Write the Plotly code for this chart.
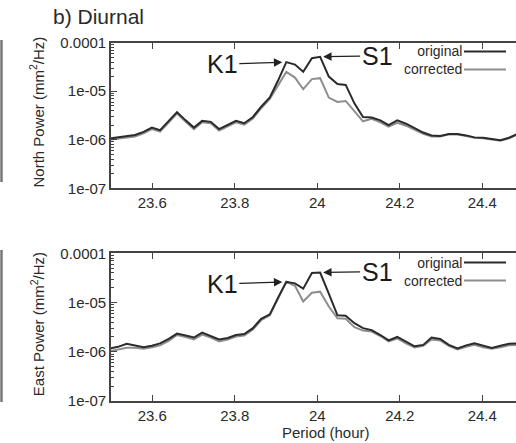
import numpy as np
import plotly.graph_objects as go

# ---- data ----
period = [23.497, 23.517, 23.538, 23.558, 23.579, 23.599, 23.619, 23.640, 23.660, 23.681,
          23.701, 23.721, 23.742, 23.762, 23.783, 23.803, 23.823, 23.844, 23.864, 23.885,
          23.905, 23.925, 23.946, 23.966, 23.987, 24.007, 24.028, 24.049, 24.069, 24.090,
          24.111, 24.132, 24.153, 24.173, 24.194, 24.215, 24.236, 24.257, 24.277, 24.298,
          24.319, 24.340, 24.361, 24.381, 24.402, 24.423, 24.444, 24.465, 24.486, 24.506]

north_original = [1.07e-6, 1.12e-6, 1.17e-6, 1.26e-6, 1.45e-6, 1.78e-6, 1.58e-6, 2.40e-6, 3.72e-6, 2.51e-6,
                  1.78e-6, 2.45e-6, 2.34e-6, 1.66e-6, 2.00e-6, 2.45e-6, 2.19e-6, 2.95e-6, 4.79e-6, 7.41e-6,
                  1.66e-5, 3.98e-5, 3.55e-5, 2.51e-5, 4.79e-5, 5.13e-5, 2.00e-5, 1.41e-5, 1.35e-5, 5.62e-6,
                  2.95e-6, 2.88e-6, 2.51e-6, 2.00e-6, 2.51e-6, 2.14e-6, 1.74e-6, 1.41e-6, 1.23e-6, 1.20e-6,
                  1.32e-6, 1.32e-6, 1.23e-6, 1.12e-6, 1.10e-6, 1.02e-6, 9.8e-7, 1.10e-6, 1.32e-6, 1.41e-6]

north_corrected = [1.00e-6, 1.05e-6, 1.10e-6, 1.17e-6, 1.35e-6, 1.66e-6, 1.48e-6, 2.24e-6, 3.47e-6, 2.34e-6,
                   1.66e-6, 2.29e-6, 2.19e-6, 1.55e-6, 1.86e-6, 2.29e-6, 2.04e-6, 2.75e-6, 4.47e-6, 6.92e-6,
                   1.32e-5, 2.51e-5, 1.91e-5, 1.10e-5, 1.78e-5, 1.86e-5, 7.41e-6, 6.03e-6, 6.31e-6, 3.80e-6,
                   2.40e-6, 2.69e-6, 2.29e-6, 1.86e-6, 2.24e-6, 1.95e-6, 1.58e-6, 1.32e-6, 1.17e-6, 1.17e-6,
                   1.29e-6, 1.29e-6, 1.20e-6, 1.10e-6, 1.07e-6, 1.00e-6, 9.5e-7, 1.07e-6, 1.29e-6, 1.38e-6]

east_original = [1.17e-6, 1.26e-6, 1.45e-6, 1.32e-6, 1.23e-6, 1.32e-6, 1.48e-6, 1.82e-6, 2.34e-6, 2.14e-6,
                 1.95e-6, 2.45e-6, 2.09e-6, 1.78e-6, 1.91e-6, 2.19e-6, 2.29e-6, 3.02e-6, 4.68e-6, 5.75e-6,
                 1.26e-5, 2.63e-5, 2.45e-5, 1.91e-5, 3.98e-5, 4.07e-5, 1.51e-5, 5.50e-6, 5.37e-6, 3.80e-6,
                 3.02e-6, 2.75e-6, 2.19e-6, 1.70e-6, 2.00e-6, 1.58e-6, 1.29e-6, 1.38e-6, 1.95e-6, 1.82e-6,
                 1.38e-6, 1.17e-6, 1.35e-6, 1.48e-6, 1.32e-6, 1.20e-6, 1.32e-6, 1.45e-6, 1.48e-6, 1.48e-6]

east_corrected = [1.02e-6, 1.10e-6, 1.20e-6, 1.20e-6, 1.15e-6, 1.23e-6, 1.35e-6, 1.66e-6, 2.19e-6, 2.00e-6,
                  1.78e-6, 2.24e-6, 1.95e-6, 1.62e-6, 1.78e-6, 2.04e-6, 2.14e-6, 2.82e-6, 4.37e-6, 5.50e-6,
                  1.20e-5, 2.63e-5, 2.19e-5, 1.05e-5, 1.58e-5, 1.66e-5, 8.32e-6, 4.79e-6, 4.68e-6, 3.16e-6,
                  2.69e-6, 2.57e-6, 2.09e-6, 1.62e-6, 1.86e-6, 1.48e-6, 1.23e-6, 1.32e-6, 1.78e-6, 1.70e-6,
                  1.32e-6, 1.12e-6, 1.26e-6, 1.38e-6, 1.23e-6, 1.15e-6, 1.23e-6, 1.35e-6, 1.38e-6, 1.38e-6]

x_tickvals = [23.6, 23.8, 24.0, 24.2, 24.4]
x_ticktext = ["23.6", "23.8", "24", "24.2", "24.4"]
y_tickvals = [1e-7, 1e-6, 1e-5, 1e-4]
y_ticktext = ["1e-07", "1e-06", "1e-05", "0.0001"]
series_names = ["original", "corrected"]
panel_titles = ["North Power (mm<sup>2</sup>/Hz)", "East Power (mm<sup>2</sup>/Hz)"]
k1_index = 21
s1_index = 25

# ---- styling ----
W, H = 516, 443
FONT = "Liberation Sans, Arial, sans-serif"
TXT = "#2a2a2a"
AX = "#444444"
C_ORIG = "#2b2b2b"
C_CORR = "#8e8e8e"

def py2paper(p):
    return 1 - p / H

def px2paper(p):
    return p / W

fig = go.Figure()

panels = [
    dict(orig=north_original, corr=north_corrected, xa="x", ya="y", top=42.7, bot=188.3),
    dict(orig=east_original, corr=east_corrected, xa="x2", ya="y2", top=253.3, bot=401.0),
]

for i, pn in enumerate(panels):
    fig.add_trace(go.Scatter(x=period, y=pn["corr"], mode="lines", name=series_names[1],
                             line=dict(color=C_CORR, width=2), xaxis=pn["xa"], yaxis=pn["ya"],
                             showlegend=False))
    fig.add_trace(go.Scatter(x=period, y=pn["orig"], mode="lines", name=series_names[0],
                             line=dict(color=C_ORIG, width=2), xaxis=pn["xa"], yaxis=pn["ya"],
                             showlegend=False))

minor_vals = [k * 10.0 ** e for e in (-7, -6, -5) for k in range(2, 10)]
x_left = 111 / W
xrange_ = [23.5, 23.5 + (W - 111) / 412.5]

common_x = dict(range=xrange_, tickvals=x_tickvals, ticktext=x_ticktext, ticks="inside",
                ticklen=6, tickwidth=1.2, tickcolor=AX, showline=True, linecolor=AX, linewidth=1.6,
                mirror="ticks", showgrid=False, zeroline=False, domain=[x_left, 1],
                tickfont=dict(family=FONT, size=15, color=TXT), automargin=False)
common_y = dict(type="log", range=[-7, -4], tickvals=y_tickvals, ticktext=y_ticktext,
                ticks="inside", ticklen=6, tickwidth=1.2, tickcolor=AX, showline=True,
                linecolor=AX, linewidth=1.6, mirror=False, showgrid=False, zeroline=False,
                minor=dict(tickvals=minor_vals, ticks="inside", ticklen=3, tickwidth=1,
                           tickcolor=AX, showgrid=False),
                tickfont=dict(family=FONT, size=15, color=TXT), automargin=False)

fig.update_layout(
    xaxis=dict(common_x, anchor="y"),
    yaxis=dict(common_y, anchor="x", domain=[py2paper(188.3), py2paper(42.7)]),
    xaxis2=dict(common_x, anchor="y2"),
    yaxis2=dict(common_y, anchor="x2", domain=[py2paper(401.0), py2paper(253.3)]),
)

annotations = []
shapes = []

# panel title
annotations.append(dict(text="b) Diurnal", x=px2paper(51), y=py2paper(17), xref="paper", yref="paper",
                        xanchor="left", yanchor="middle", showarrow=False,
                        font=dict(family=FONT, size=21, color=TXT)))

# y titles
for i, pn in enumerate(panels):
    annotations.append(dict(text=panel_titles[i], x=px2paper(37),
                            y=py2paper((pn["top"] + pn["bot"]) / 2 - 3), xref="paper", yref="paper",
                            xanchor="center", yanchor="middle", textangle=-90, showarrow=False,
                            font=dict(family=FONT, size=15, color=TXT)))

# x title
annotations.append(dict(text="Period (hour)", x=px2paper(326), y=py2paper(432), xref="paper",
                        yref="paper", xanchor="center", yanchor="middle", showarrow=False,
                        font=dict(family=FONT, size=15, color=TXT)))

# K1 / S1 arrows
for i, pn in enumerate(panels):
    xa, ya = pn["xa"], pn["ya"]
    annotations.append(dict(text="K1", x=period[k1_index], y=np.log10(pn["orig"][k1_index]),
                            xref=xa, yref=ya, ax=-64, ay=2, showarrow=True, arrowhead=2,
                            arrowsize=1.4, arrowwidth=1.2, arrowcolor="#222", standoff=4,
                            font=dict(family=FONT, size=25, color="#1a1a1a")))
    annotations.append(dict(text="S1", x=period[s1_index], y=np.log10(pn["orig"][s1_index]),
                            xref=xa, yref=ya, ax=57, ay=-1, showarrow=True, arrowhead=2,
                            arrowsize=1.4, arrowwidth=1.2, arrowcolor="#222", standoff=3,
                            font=dict(family=FONT, size=25, color="#1a1a1a")))

# custom legends: one right-aligned two-line text block plus line samples
LEG_SIZE = 14
line_gap = 1.3 * LEG_SIZE
legend_centres = [60.5, 271.5]
for yc in legend_centres:
    annotations.append(dict(text="<br>".join(series_names), x=px2paper(463), y=py2paper(yc),
                            xref="paper", yref="paper", xanchor="right", yanchor="middle",
                            align="right", showarrow=False, borderpad=0,
                            font=dict(family=FONT, size=LEG_SIZE, color=TXT)))
    for k, col in enumerate([C_ORIG, C_CORR]):
        yy = yc + (k - 0.5) * line_gap
        shapes.append(dict(type="line", xref="paper", yref="paper", x0=px2paper(464),
                           x1=px2paper(506), y0=py2paper(yy), y1=py2paper(yy),
                           line=dict(color=col, width=2)))

# remnant of the neighbouring panel frame at the left edge
for (a, b) in [(40, 182), (250, 402)]:
    shapes.append(dict(type="line", xref="paper", yref="paper", x0=px2paper(1.5), x1=px2paper(1.5),
                       y0=py2paper(a), y1=py2paper(b), line=dict(color="#777", width=2.5)))

fig.update_layout(width=W, height=H, margin=dict(l=0, r=0, t=0, b=0),
                  paper_bgcolor="white", plot_bgcolor="white",
                  annotations=annotations, shapes=shapes, showlegend=False,
                  font=dict(family=FONT, color=TXT))

fig.write_html("out.html")
